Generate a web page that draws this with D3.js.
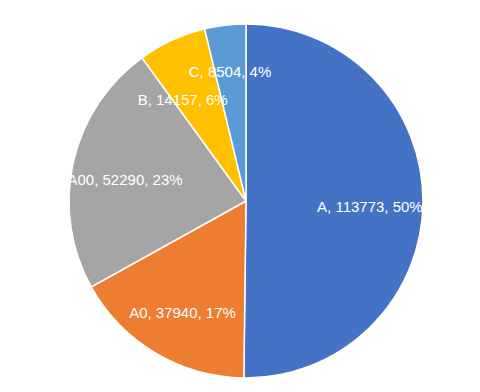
<!DOCTYPE html>
<html>
<head>
<meta charset="utf-8">
<script src="https://cdn.jsdelivr.net/npm/d3@7"></script>
<style>
  body { margin: 0; background: #fff; }
  svg { display: block; }
</style>
</head>
<body>
<svg id="chart" width="480" height="392"></svg>
<script>
// Chart data (clockwise from 12 o'clock)
const categories = ['A', 'A0', 'A00', 'B', 'C'];
const values = [113773, 37940, 52290, 14157, 8504];
const percents = ['50%', '17%', '23%', '6%', '4%'];
const colors = ['#4472C4', '#ED7D31', '#A5A5A5', '#FFC000', '#5B9BD5'];

const width = 480, height = 392;
const cx = 246, cy = 201, radius = 177;

const svg = d3.select('#chart');
const g = svg.append('g').attr('transform', `translate(${cx},${cy})`);

const data = categories.map((c, i) => ({ name: c, value: values[i], pct: percents[i], color: colors[i] }));

const pie = d3.pie().value(d => d.value).sort(null);
const arcs = pie(data);

const arc = d3.arc().innerRadius(0).outerRadius(radius);

g.selectAll('path')
  .data(arcs)
  .enter()
  .append('path')
  .attr('d', arc)
  .attr('fill', d => d.data.color)
  .attr('stroke', '#fff')
  .attr('stroke-width', 1.5);

// Data labels, inside the slices
const labels = arcs.map(d => ({
  d: d,
  angle: (d.startAngle + d.endAngle) / 2,
  r: radius * 0.7
}));

const text = g.selectAll('text')
  .data(labels)
  .enter()
  .append('text')
  .attr('text-anchor', 'middle')
  .attr('dy', '0.7em')
  .attr('fill', '#fff')
  .style('font-family', '"Liberation Sans", Arial, sans-serif')
  .style('font-size', '15px')
  .text(l => `${l.d.data.name}, ${l.d.data.value}, ${l.d.data.pct}`);

function place() {
  text
    .attr('x', l => l.r * Math.sin(l.angle))
    .attr('y', l => -l.r * Math.cos(l.angle));
}
place();

// crude collision avoidance: the smaller slice's label moves outward,
// the other one rotates away
const pad = 10;
const step = Math.PI / 360;
for (let iter = 0; iter < 200; iter++) {
  let moved = false;
  const boxes = text.nodes().map(n => n.getBBox());
  for (let i = 0; i < labels.length; i++) {
    const j = (i + 1) % labels.length;
    const a = boxes[i], b = boxes[j];
    const overlap = a.x - pad < b.x + b.width && b.x - pad < a.x + a.width &&
                    a.y - pad < b.y + b.height && b.y - pad < a.y + a.height;
    if (overlap) {
      const small = labels[i].d.value < labels[j].d.value ? labels[i] : labels[j];
      const other = small === labels[i] ? labels[j] : labels[i];
      small.r = Math.min(small.r + 1, radius * 0.85);
      other.angle += (other === labels[i] ? -step : step);
      moved = true;
    }
  }
  if (!moved) break;
  place();
}
</script>
</body>
</html>
